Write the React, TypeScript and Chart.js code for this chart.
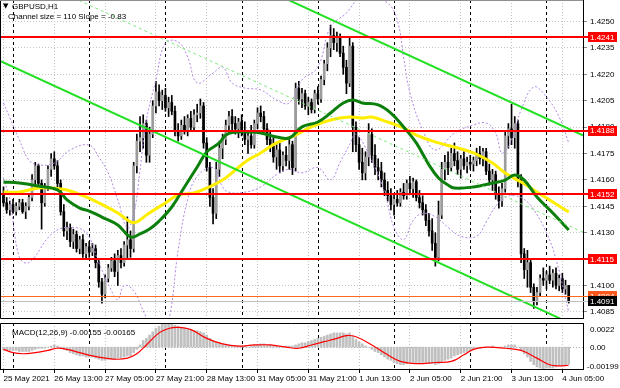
import React, { useEffect, useRef } from "react";
import { Chart, registerables } from "chart.js";

Chart.register(...registerables);

// ---------- DATA ----------
const symbolTitle = "GBPUSD,H1";
const channelText = "Channel size = 110 Slope = -0.83";
const macdText = "MACD(12,26,9) -0.00155 -0.00165";

const candleOpen = [
  1.4152,1.4147,1.4143,1.4146,1.4142,1.4145,1.4147,1.4142,1.4145,1.4150,
  1.4160,1.4168,1.4158,1.4147,1.4156,1.4166,1.4172,1.4168,1.4158,1.4142,
  1.4131,1.4133,1.4125,1.4129,1.4121,1.4126,1.4118,1.4122,1.4119,1.4121,
  1.4113,1.4102,1.4095,1.4104,1.4110,1.4114,1.4108,1.4117,1.4113,1.4123,
  1.4126,1.4121,1.4168,1.4182,1.4184,1.4192,1.4174,1.4186,1.4202,1.4210,
  1.4205,1.4208,1.4201,1.4204,1.4199,1.4188,1.4185,1.4191,1.4188,1.4195,
  1.4190,1.4197,1.4198,1.4202,1.4181,1.4167,1.4150,1.4141,1.4166,1.4178,
  1.4183,1.4191,1.4196,1.4192,1.4189,1.4193,1.4187,1.4183,1.4185,1.4180,
  1.4192,1.4198,1.4196,1.4189,1.4183,1.4179,1.4173,1.4177,1.4168,1.4174,
  1.4171,1.4180,1.4167,1.4212,1.4206,1.4209,1.4202,1.4204,1.4200,1.4209,
  1.4206,1.4217,1.4226,1.4235,1.4242,1.4238,1.4241,1.4232,1.4224,1.4215,
  1.4236,1.4190,1.4180,1.4170,1.4164,1.4173,1.4186,1.4174,1.4167,1.4165,
  1.4160,1.4154,1.4151,1.4146,1.4149,1.4147,1.4153,1.4151,1.4158,1.4155,
  1.4159,1.4150,1.4147,1.4143,1.4137,1.4131,1.4124,1.4116,1.4140,1.4166,
  1.4170,1.4167,1.4175,1.4171,1.4166,1.4172,1.4168,1.4170,1.4169,1.4171,
  1.4175,1.4172,1.4176,1.4165,1.4160,1.4163,1.4152,1.4148,1.4155,1.4185,
  1.4189,1.4184,1.4192,1.4160,1.4118,1.4109,1.4113,1.4099,1.4091,1.4096,
  1.4104,1.4103,1.4106,1.4103,1.4107,1.4100,1.4104,1.4098,1.4100,
];
const candleHigh = [
  1.4156,1.4150,1.4148,1.4149,1.4147,1.4149,1.4149,1.4147,1.4152,1.4163,
  1.4170,1.4169,1.4160,1.4158,1.4168,1.4175,1.4176,1.4171,1.4160,1.4146,
  1.4136,1.4135,1.4132,1.4131,1.4128,1.4129,1.4124,1.4125,1.4124,1.4123,
  1.4115,1.4104,1.4106,1.4112,1.4116,1.4118,1.4120,1.4121,1.4125,1.4139,
  1.4131,1.4170,1.4186,1.4196,1.4197,1.4194,1.4190,1.4205,1.4216,1.4214,
  1.4211,1.4212,1.4207,1.4208,1.4202,1.4192,1.4194,1.4196,1.4197,1.4199,
  1.4200,1.4203,1.4206,1.4204,1.4184,1.4170,1.4155,1.4170,1.4182,1.4186,
  1.4194,1.4199,1.4200,1.4196,1.4195,1.4197,1.4193,1.4188,1.4191,1.4194,
  1.4201,1.4202,1.4199,1.4192,1.4188,1.4184,1.4180,1.4181,1.4176,1.4179,
  1.4183,1.4182,1.4215,1.4216,1.4212,1.4211,1.4207,1.4206,1.4211,1.4213,
  1.4219,1.4228,1.4238,1.4248,1.4246,1.4244,1.4243,1.4236,1.4228,1.4241,
  1.4238,1.4193,1.4184,1.4178,1.4176,1.4192,1.4189,1.4180,1.4172,1.4170,
  1.4164,1.4159,1.4155,1.4152,1.4154,1.4155,1.4158,1.4160,1.4162,1.4161,
  1.4160,1.4154,1.4151,1.4146,1.4141,1.4138,1.4130,1.4148,1.4170,1.4174,
  1.4176,1.4178,1.4181,1.4176,1.4174,1.4176,1.4173,1.4174,1.4173,1.4178,
  1.4179,1.4178,1.4178,1.4169,1.4166,1.4165,1.4156,1.4158,1.4188,1.4192,
  1.4203,1.4196,1.4194,1.4163,1.4121,1.4120,1.4115,1.4101,1.4099,1.4106,
  1.4110,1.4108,1.4111,1.4109,1.4110,1.4106,1.4107,1.4103,1.4100,
];
const candleLow = [
  1.4145,1.4141,1.4140,1.4141,1.4140,1.4143,1.4141,1.4138,1.4143,1.4148,
  1.4157,1.4156,1.4132,1.4145,1.4154,1.4162,1.4166,1.4156,1.4140,1.4128,
  1.4126,1.4122,1.4121,1.4119,1.4118,1.4116,1.4115,1.4116,1.4117,1.4110,
  1.4099,1.4090,1.4093,1.4102,1.4108,1.4105,1.4100,1.4110,1.4111,1.4115,
  1.4116,1.4119,1.4164,1.4176,1.4178,1.4170,1.4170,1.4184,1.4198,1.4202,
  1.4200,1.4199,1.4196,1.4197,1.4185,1.4182,1.4183,1.4186,1.4185,1.4188,
  1.4188,1.4193,1.4195,1.4178,1.4165,1.4145,1.4135,1.4138,1.4162,1.4172,
  1.4180,1.4187,1.4188,1.4186,1.4184,1.4185,1.4180,1.4175,1.4178,1.4178,
  1.4189,1.4193,1.4187,1.4180,1.4176,1.4170,1.4166,1.4164,1.4165,1.4168,
  1.4166,1.4163,1.4165,1.4203,1.4201,1.4200,1.4197,1.4198,1.4198,1.4203,
  1.4204,1.4214,1.4222,1.4230,1.4234,1.4233,1.4230,1.4220,1.4209,1.4213,
  1.4176,1.4176,1.4166,1.4160,1.4160,1.4168,1.4170,1.4163,1.4160,1.4156,
  1.4151,1.4148,1.4143,1.4140,1.4145,1.4145,1.4149,1.4149,1.4152,1.4150,
  1.4148,1.4144,1.4140,1.4134,1.4128,1.4120,1.4111,1.4114,1.4138,1.4160,
  1.4163,1.4165,1.4168,1.4163,1.4161,1.4166,1.4164,1.4166,1.4165,1.4168,
  1.4169,1.4168,1.4163,1.4157,1.4154,1.4149,1.4144,1.4145,1.4153,1.4178,
  1.4180,1.4178,1.4156,1.4113,1.4104,1.4099,1.4096,1.4087,1.4089,1.4094,
  1.4100,1.4098,1.4101,1.4099,1.4098,1.4097,1.4096,1.4095,1.4090,
];
const candleClose = [
  1.4147,1.4143,1.4146,1.4142,1.4145,1.4147,1.4142,1.4145,1.4150,1.4160,
  1.4168,1.4158,1.4147,1.4156,1.4166,1.4172,1.4168,1.4158,1.4142,1.4131,
  1.4133,1.4125,1.4129,1.4121,1.4126,1.4118,1.4122,1.4119,1.4121,1.4113,
  1.4102,1.4095,1.4104,1.4110,1.4114,1.4108,1.4117,1.4113,1.4123,1.4126,
  1.4121,1.4168,1.4182,1.4184,1.4192,1.4174,1.4186,1.4202,1.4210,1.4205,
  1.4208,1.4201,1.4204,1.4199,1.4188,1.4185,1.4191,1.4188,1.4195,1.4190,
  1.4197,1.4198,1.4202,1.4181,1.4167,1.4150,1.4141,1.4166,1.4178,1.4183,
  1.4191,1.4196,1.4192,1.4189,1.4193,1.4187,1.4183,1.4185,1.4180,1.4192,
  1.4198,1.4196,1.4189,1.4183,1.4179,1.4173,1.4177,1.4168,1.4174,1.4171,
  1.4180,1.4167,1.4212,1.4206,1.4209,1.4202,1.4204,1.4200,1.4209,1.4206,
  1.4217,1.4226,1.4235,1.4242,1.4238,1.4241,1.4232,1.4224,1.4215,1.4236,
  1.4190,1.4180,1.4170,1.4164,1.4173,1.4186,1.4174,1.4167,1.4165,1.4160,
  1.4154,1.4151,1.4146,1.4149,1.4147,1.4153,1.4151,1.4158,1.4155,1.4159,
  1.4150,1.4147,1.4143,1.4137,1.4131,1.4124,1.4116,1.4140,1.4166,1.4170,
  1.4167,1.4175,1.4171,1.4166,1.4172,1.4168,1.4170,1.4169,1.4171,1.4175,
  1.4172,1.4176,1.4165,1.4160,1.4163,1.4152,1.4148,1.4155,1.4185,1.4189,
  1.4184,1.4192,1.4160,1.4118,1.4109,1.4113,1.4099,1.4091,1.4096,1.4104,
  1.4103,1.4106,1.4103,1.4107,1.4100,1.4104,1.4098,1.4100,1.4091,
];

// moving averages (sampled bars)
const maYellowBars = [0,5,11,15,20,26,30,36,40,42,45,51,55,60,64,69,73,77,81,86,92,97,103,109,113,116,121,126,130,137,142,148,154,158,163,167,172,178];
const maYellowVals = [1.41531,1.41531,1.41554,1.41554,1.41543,1.41503,1.41469,1.41412,1.41361,1.41361,1.41401,1.41469,1.41514,1.41526,1.41554,1.41599,1.41656,1.41713,1.41753,1.41810,1.41855,1.41901,1.41940,1.41957,1.41952,1.41957,1.41929,1.41895,1.41855,1.41810,1.41787,1.41753,1.41696,1.41639,1.41588,1.41543,1.41486,1.41418];
const maGreenBars = [0,5,11,17,20,24,27,31,36,40,43,46,49,53,57,61,64,68,70,73,77,81,86,90,94,99,103,107,110,113,118,122,126,130,134,137,140,142,148,154,158,161,164,168,173,178];
const maGreenVals = [1.41588,1.41582,1.41565,1.41543,1.41486,1.41440,1.41423,1.41389,1.41344,1.41276,1.41293,1.41321,1.41366,1.41446,1.41560,1.41673,1.41759,1.41810,1.41855,1.41872,1.41872,1.41866,1.41844,1.41838,1.41901,1.41929,1.41980,1.42037,1.42054,1.42037,1.42026,1.41980,1.41901,1.41810,1.41685,1.41611,1.41571,1.41554,1.41560,1.41582,1.41599,1.41628,1.41599,1.41503,1.41412,1.41315];

// bands (sampled bars)
const bandUpperBars = [0,2,5,8,11,16,21,27,30,33,36,39,41,43,45,48,51,55,58,61,66,69,72,76,81,86,90,94,99,103,108,112,116,121,124,126,128,132,136,142,148,152,155,157,160,163,167,171,175,178];
const bandUpperVals = [1.42037,1.41952,1.41827,1.41713,1.41685,1.41696,1.41770,1.41798,1.41730,1.41639,1.41486,1.41327,1.41401,1.41656,1.41940,1.42168,1.42378,1.42384,1.42298,1.42151,1.42207,1.42241,1.42151,1.42122,1.42111,1.42054,1.42037,1.42168,1.42241,1.42469,1.42548,1.42634,1.42634,1.42605,1.42509,1.42298,1.42094,1.41884,1.41770,1.41866,1.41912,1.41923,1.41866,1.41753,1.41827,1.41997,1.42128,1.42071,1.41957,1.41810];
const bandLowerBars = [0,2,5,8,15,20,26,30,34,36,38,41,45,49,52,55,58,61,66,69,71,76,81,86,90,94,99,103,106,109,111,116,120,123,126,129,132,136,140,144,149,152,155,158,161,164,167,171,174,178];
const bandLowerVals = [1.4161,1.4149,1.4116,1.4113,1.4129,1.4133,1.4130,1.4113,1.4097,1.4092,1.4100,1.4097,1.4082,1.4072,1.4080,1.4120,1.4149,1.4162,1.4167,1.4156,1.4153,1.4153,1.4156,1.4163,1.4166,1.4164,1.4167,1.4160,1.4170,1.4180,1.4186,1.4171,1.4153,1.4133,1.4126,1.4137,1.4141,1.4139,1.4133,1.4128,1.4128,1.4136,1.4145,1.4150,1.4151,1.4149,1.4143,1.4130,1.4115,1.4085];

// regression channel (end points)
const channelBars = [-2, 184];
const channelMid = [1.42834, 1.41290];
const channelUpper = [1.43384, 1.41840];
const channelLower = [1.42284, 1.40740];

// horizontal levels
const redLevels = [1.4241, 1.4188, 1.4152, 1.4115];
const orangeLevel = 1.4094;
const bidLevel = 1.4091;

// axes
const priceTicks = [1.4085,1.4100,1.4115,1.4130,1.4145,1.4160,1.4175,1.4190,1.4205,1.4220,1.4235,1.4250];
const labelBars = [0,16,32,48,64,80,96,112,128,144,160,176];
const timeLabels = ["25 May 2021","26 May 13:00","27 May 05:00","27 May 21:00","28 May 13:00","31 May 05:00","31 May 21:00","1 Jun 13:00","2 Jun 05:00","2 Jun 21:00","3 Jun 13:00","4 Jun 05:00"];
const daySeparatorBars = [3, 27, 51, 75, 99, 123, 147, 171];

// MACD
const macdMain = [
  -0.0002,-0.0003,-0.0003,-0.0003,-0.0003,-0.0004,-0.0004,-0.0004,-0.0004,-0.0003,
  -0.0002,-0.0001,-0.0001,-0.0001,0.0000,0.0001,0.0002,0.0001,0.0000,-0.0002,
  -0.0003,-0.0005,-0.0006,-0.0007,-0.0008,-0.0008,-0.0009,-0.0009,-0.0009,-0.0010,
  -0.0011,-0.0012,-0.0012,-0.0011,-0.0011,-0.0011,-0.0010,-0.0010,-0.0009,-0.0008,
  -0.0008,-0.0005,-0.0002,0.0002,0.0006,0.0008,0.0011,0.0014,0.0017,0.0019,
  0.0021,0.0022,0.0022,0.0021,0.0020,0.0019,0.0018,0.0017,0.0017,0.0016,
  0.0015,0.0015,0.0014,0.0013,0.0011,0.0008,0.0006,0.0005,0.0004,0.0003,
  0.0002,0.0002,0.0001,0.0001,0.0001,0.0001,0.0001,0.0000,0.0001,0.0002,
  0.0002,0.0003,0.0003,0.0002,0.0002,0.0001,0.0001,0.0000,0.0000,0.0001,
  0.0001,0.0001,0.0002,0.0003,0.0004,0.0004,0.0005,0.0006,0.0007,0.0008,
  0.0009,0.0010,0.0011,0.0012,0.0013,0.0013,0.0013,0.0013,0.0012,0.0013,
  0.0010,0.0007,0.0005,0.0003,0.0001,0.0000,-0.0002,-0.0004,-0.0005,-0.0007,
  -0.0009,-0.0011,-0.0012,-0.0014,-0.0015,-0.0016,-0.0016,-0.0015,-0.0014,-0.0014,
  -0.0014,-0.0014,-0.0014,-0.0014,-0.0015,-0.0015,-0.0016,-0.0015,-0.0013,-0.0012,
  -0.0011,-0.0010,-0.0008,-0.0007,-0.0006,-0.0005,-0.0004,-0.0003,-0.0002,-0.0001,
  -0.0001,0.0000,0.0000,0.0000,0.0001,0.0000,0.0000,0.0000,0.0001,0.0002,
  0.0002,0.0002,0.0000,-0.0003,-0.0006,-0.0009,-0.0013,-0.0016,-0.0018,-0.0019,
  -0.00199,-0.0019,-0.0019,-0.0019,-0.0018,-0.0017,-0.0017,-0.0016,-0.00155,
];
const macdSignalBars = [0,3,6,10,14,17,20,24,28,32,36,39,42,45,49,52,55,59,64,69,74,79,84,89,93,97,101,105,108,111,116,121,125,130,136,141,145,148,152,158,163,168,172,175,178];
const macdSignalVals = [-0.0002,-0.0005,-0.0006,-0.0005,-0.0003,-0.0001,-0.0002,-0.0005,-0.0008,-0.0010,-0.0011,-0.0010,-0.0006,0.0002,0.0013,0.0017,0.0018,0.0016,0.0008,0.0003,0.0001,0.0002,0.0002,0.0000,-0.0001,0.0002,0.0005,0.0008,0.00105,0.00095,0.0002,-0.0007,-0.0013,-0.0015,-0.0014,-0.0013,-0.0007,-0.0002,0.0000,-0.0001,-0.0003,-0.0010,-0.0016,-0.0017,-0.00165];
const macdMax = 0.0022;
const macdMin = -0.00199;

// ---------- STYLE ----------
const FONT = "'Liberation Sans', Arial, sans-serif";
const X_MIN = -1.1;
const X_MAX = 182.5;
const Y_MIN = 1.408153;
const Y_MAX = 1.426222;
const BAND_COLOR = "#b084e4";

const pts = (xs: number[], ys: number[]) => xs.map((x, i) => ({ x, y: ys[i] }));

function drawDaySeparators(chart: any) {
  const { ctx, chartArea: a, scales } = chart;
  ctx.save();
  ctx.strokeStyle = "#000";
  ctx.lineWidth = 1;
  ctx.setLineDash([3, 3]);
  daySeparatorBars.forEach((b) => {
    const px = Math.round(scales.x.getPixelForValue(b)) + 0.5;
    ctx.beginPath();
    ctx.moveTo(px, a.top);
    ctx.lineTo(px, a.bottom);
    ctx.stroke();
  });
  ctx.restore();
}

const mainOverlay = {
  id: "mainOverlay",
  beforeDatasetsDraw(chart: any) {
    drawDaySeparators(chart);
  },
  afterDatasetsDraw(chart: any) {
    const { ctx, chartArea: a, scales } = chart;
    const y = scales.y;
    ctx.save();
    ctx.beginPath();
    ctx.rect(a.left, a.top, a.right - a.left + 6, a.bottom - a.top);
    ctx.clip();
    let py = Math.round(y.getPixelForValue(bidLevel)) + 0.5;
    ctx.strokeStyle = "#c0c0c0";
    ctx.lineWidth = 1;
    ctx.beginPath(); ctx.moveTo(a.left, py); ctx.lineTo(a.right + 5, py); ctx.stroke();
    py = Math.round(y.getPixelForValue(orangeLevel)) + 0.5;
    ctx.strokeStyle = "#ff6a1a";
    ctx.beginPath(); ctx.moveTo(a.left, py); ctx.lineTo(a.right + 5, py); ctx.stroke();
    ctx.strokeStyle = "#ff0000";
    ctx.lineWidth = 2;
    redLevels.forEach((v) => {
      const p = Math.round(y.getPixelForValue(v));
      ctx.beginPath(); ctx.moveTo(a.left, p); ctx.lineTo(a.right + 6, p); ctx.stroke();
    });
    ctx.restore();
  },
  afterDraw(chart: any) {
    const { ctx, chartArea: a, scales } = chart;
    const y = scales.y;
    ctx.save();
    ctx.strokeStyle = "#000";
    ctx.lineWidth = 1;
    ctx.beginPath();
    ctx.moveTo(a.left + 0.5, a.top + 0.5);
    ctx.lineTo(a.left + 0.5, a.bottom + 0.5);
    ctx.lineTo(a.right + 0.5, a.bottom + 0.5);
    ctx.stroke();
    ctx.strokeStyle = "#909090";
    ctx.beginPath(); ctx.moveTo(a.left, a.top + 0.5); ctx.lineTo(a.right, a.top + 0.5); ctx.stroke();
    ctx.font = `8px ${FONT}`;
    ctx.textBaseline = "middle";
    ctx.textAlign = "left";
    const box = (v: number, bg: string, fg: string) => {
      const p = y.getPixelForValue(v);
      ctx.fillStyle = bg;
      ctx.fillRect(a.right + 5, Math.round(p - 5), 29, 10);
      ctx.fillStyle = fg;
      ctx.fillText(v.toFixed(4), a.right + 7, p + 0.5);
    };
    redLevels.forEach((v) => box(v, "#ff0000", "#ffffff"));
    box(orangeLevel, "#ff5a1e", "#ffffff");
    box(bidLevel, "#000000", "#ffffff");
    ctx.fillStyle = "#000";
    ctx.font = `7px 'DejaVu Sans', sans-serif`;
    ctx.fillText("\u25BC", 3, 6.5);
    ctx.font = `8px ${FONT}`;
    ctx.fillText(symbolTitle, 12, 6.5);
    ctx.fillText(channelText, 8, 17);
    ctx.restore();
  },
};

const macdOverlay = {
  id: "macdOverlay",
  beforeDatasetsDraw(chart: any) {
    const { ctx, chartArea: a, scales } = chart;
    drawDaySeparators(chart);
    const zy = Math.round(scales.y.getPixelForValue(0)) + 0.5;
    ctx.save();
    ctx.strokeStyle = "#b0b0b0";
    ctx.setLineDash([1, 2]);
    ctx.beginPath(); ctx.moveTo(a.left, zy); ctx.lineTo(a.right, zy); ctx.stroke();
    ctx.restore();
  },
  afterDraw(chart: any) {
    const { ctx, chartArea: a, scales } = chart;
    ctx.save();
    ctx.strokeStyle = "#000";
    ctx.lineWidth = 1;
    ctx.beginPath();
    ctx.moveTo(a.left + 0.5, a.bottom);
    ctx.lineTo(a.left + 0.5, a.top + 0.5);
    ctx.lineTo(a.right, a.top + 0.5);
    ctx.stroke();
    ctx.fillStyle = "#000";
    ctx.font = `8px ${FONT}`;
    ctx.textBaseline = "middle";
    ctx.textAlign = "left";
    ctx.fillText(macdText, 12, a.top + 10);
    const ty = scales.y.getPixelForValue(macdMax);
    const zy = scales.y.getPixelForValue(0);
    const by = scales.y.getPixelForValue(macdMin);
    ctx.fillText(macdMax.toFixed(4), a.right + 7, ty + 7);
    ctx.fillText("0.00", a.right + 7, zy + 1);
    ctx.fillText(macdMin.toFixed(5), a.right + 4, by - 2.5);
    ctx.restore();
  },
};

export default function App() {
  const mainRef = useRef<HTMLCanvasElement>(null);
  const macdRef = useRef<HTMLCanvasElement>(null);

  useEffect(() => {
    document.body.style.margin = "0";
    const idx = candleClose.map((_, i) => i);

    const main = new Chart(mainRef.current as HTMLCanvasElement, {
      type: "bar",
      data: {
        datasets: [
          { type: "line", data: pts(channelBars, channelUpper), borderColor: "#22e022", borderWidth: 2, pointRadius: 0, order: 1, clip: 0 } as any,
          { type: "line", data: pts(channelBars, channelLower), borderColor: "#22e022", borderWidth: 2, pointRadius: 0, order: 1, clip: 0 } as any,
          { type: "line", data: pts(channelBars, channelMid), borderColor: "#7fe87f", borderWidth: 1, borderDash: [3, 3], pointRadius: 0, order: 2, clip: 0 } as any,
          { type: "line", data: pts(maGreenBars, maGreenVals), borderColor: "#0c7f0c", borderWidth: 3, pointRadius: 0, tension: 0.4, order: 3, clip: 0 } as any,
          { type: "line", data: pts(maYellowBars, maYellowVals), borderColor: "#ffee00", borderWidth: 3, pointRadius: 0, tension: 0.4, order: 4, clip: 0 } as any,
          { type: "line", data: pts(bandUpperBars, bandUpperVals), borderColor: BAND_COLOR, borderWidth: 1, borderDash: [2, 2], pointRadius: 0, tension: 0.4, order: 5, clip: 0 } as any,
          { type: "line", data: pts(bandLowerBars, bandLowerVals), borderColor: BAND_COLOR, borderWidth: 1, borderDash: [2, 2], pointRadius: 0, tension: 0.4, order: 5, clip: 0 } as any,
          {
            type: "bar",
            data: idx.map((i) => ({ x: i, y: [candleOpen[i], candleClose[i]] })),
            backgroundColor: idx.map((i) => (candleClose[i] >= candleOpen[i] ? "#9c9c9c" : "#000000")),
            barThickness: 2,
            order: 8,
          } as any,
          {
            type: "bar",
            data: idx.map((i) => ({ x: i, y: [candleLow[i], candleHigh[i]] })),
            backgroundColor: "#000000",
            barThickness: 1,
            order: 9,
          } as any,
        ],
      },
      options: {
        responsive: false,
        animation: false,
        layout: { padding: { top: 0, bottom: 2, left: 0, right: 0 } },
        plugins: { legend: { display: false }, tooltip: { enabled: false } },
        datasets: { bar: { grouped: false } } as any,
        scales: {
          x: {
            type: "linear",
            min: X_MIN,
            max: X_MAX,
            offset: false,
            grid: { offset: false, color: "#c4c4c4", drawTicks: false },
            border: { display: false, dash: [1, 2] },
            ticks: { display: false },
            afterBuildTicks: (s: any) => { s.ticks = labelBars.map((v) => ({ value: v })); },
            afterFit: (s: any) => { s.height = 0; s.paddingLeft = 0; s.paddingRight = 0; },
          } as any,
          y: {
            type: "linear",
            position: "right",
            min: Y_MIN,
            max: Y_MAX,
            afterBuildTicks: (s: any) => { s.ticks = priceTicks.map((v) => ({ value: v })); },
            afterFit: (s: any) => { s.width = 37; s.paddingTop = 0; s.paddingBottom = 0; },
            ticks: { callback: (v: any) => Number(v).toFixed(4), font: { family: FONT, size: 8 }, color: "#000", padding: 3, autoSkip: false },
            grid: { color: "#c4c4c4", tickLength: 4, tickColor: "#888" },
            border: { display: true, color: "#000", width: 1, dash: [1, 2] },
          } as any,
        },
      },
      plugins: [mainOverlay],
    });

    const macd = new Chart(macdRef.current as HTMLCanvasElement, {
      type: "bar",
      data: {
        datasets: [
          { type: "line", data: pts(macdSignalBars, macdSignalVals), borderColor: "#ff0000", borderWidth: 1.2, pointRadius: 0, tension: 0.4, order: 1, clip: 0 } as any,
          { type: "bar", data: idx.map((i) => ({ x: i, y: macdMain[i] })), backgroundColor: "#c0c0c0", barThickness: 2, order: 2 } as any,
        ],
      },
      options: {
        responsive: false,
        animation: false,
        layout: { padding: { top: 3, bottom: 0, left: 0, right: 0 } },
        plugins: { legend: { display: false }, tooltip: { enabled: false } },
        datasets: { bar: { grouped: false } } as any,
        scales: {
          x: {
            type: "linear",
            min: X_MIN,
            max: X_MAX,
            offset: false,
            grid: { offset: false, color: "#c4c4c4", tickLength: 4, tickColor: "#000", drawTicks: true },
            border: { display: true, color: "#000", dash: [1, 2] },
            ticks: {
              autoSkip: false,
              maxRotation: 0,
              minRotation: 0,
              align: "start",
              font: { family: FONT, size: 8 },
              color: "#000",
              padding: 1,
              callback: (v: any) => { const k = labelBars.indexOf(Number(v)); return k >= 0 ? timeLabels[k] : ""; },
            },
            afterBuildTicks: (s: any) => { s.ticks = labelBars.map((v) => ({ value: v })); },
            afterFit: (s: any) => { s.height = 19; s.paddingLeft = 0; s.paddingRight = 0; },
          } as any,
          y: {
            type: "linear",
            position: "right",
            min: macdMin,
            max: macdMax,
            ticks: { display: false },
            grid: { display: false },
            border: { display: true, color: "#000" },
            afterFit: (s: any) => { s.width = 37; s.paddingTop = 0; s.paddingBottom = 0; },
          } as any,
        },
      },
      plugins: [macdOverlay],
    });

    return () => {
      main.destroy();
      macd.destroy();
    };
  }, []);

  return (
    <div style={{ position: "relative", width: 620, height: 388, background: "#fff", overflow: "hidden" }}>
      <canvas ref={mainRef} width={620} height={320} style={{ position: "absolute", left: 0, top: 0, width: 620, height: 320 }} />
      <canvas ref={macdRef} width={620} height={68} style={{ position: "absolute", left: 0, top: 320, width: 620, height: 68 }} />
    </div>
  );
}
